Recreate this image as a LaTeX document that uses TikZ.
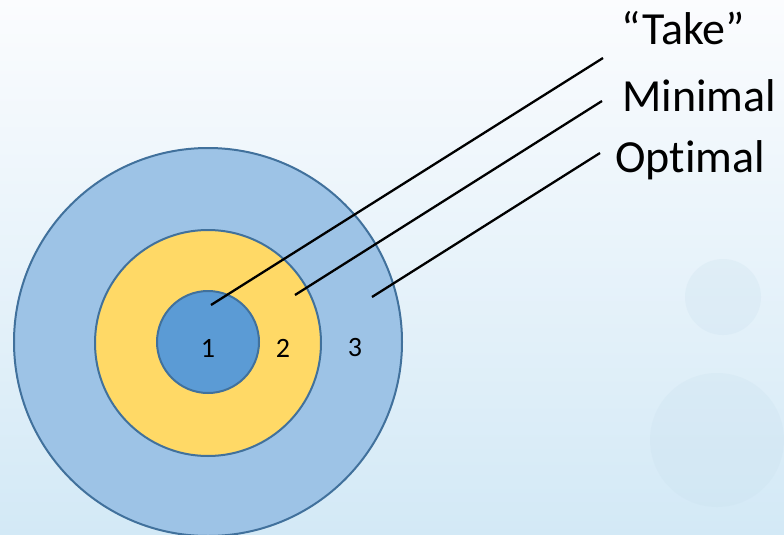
\documentclass[tikz,border=0pt]{standalone}
\usepackage{fontspec}
\setmainfont[RawFeature=-liga]{Carlito}
\begin{document}
\begin{tikzpicture}[x=1pt,y=-1pt,
  ring/.style={draw=ringedge, line width=2pt},
  pointer/.style={draw=black, line width=2.3pt},
  label/.style={font=\fontsize{46}{50}\selectfont, anchor=base west, inner sep=0pt},
  num/.style={font=\fontsize{28}{32}\selectfont, inner sep=0pt}]
\definecolor{ringedge}{HTML}{41719C}
\definecolor{outerblue}{HTML}{9DC3E6}
\definecolor{midyellow}{HTML}{FFD966}
\definecolor{innerblue}{HTML}{5B9BD5}
\definecolor{bgtop}{HTML}{FBFCFE}
\definecolor{bgbot}{HTML}{D3E9F6}
\definecolor{bgspot}{HTML}{C9E0EE}
% background
\shade[top color=bgtop, bottom color=bgbot] (0,0) rectangle (784,535);
\useasboundingbox (0,0) rectangle (784,535);
\fill[bgspot, opacity=0.25] (723,297) circle[radius=38];
\fill[bgspot, opacity=0.25] (717,440) circle[radius=67];
% target
\begin{scope}
\clip (0,0) rectangle (784,535);
\node[ring, fill=outerblue, circle, minimum size=388pt, inner sep=0pt] (outer) at (208,342) {};
\end{scope}
\node[ring, fill=midyellow, circle, minimum size=226pt, inner sep=0pt] (mid) at (208,343) {};
\node[ring, fill=innerblue, circle, minimum size=102pt, inner sep=0pt] (inner) at (208,342) {};
\node[num] (n1) at (208,348) {1};
\node[num] (n2) at (283,348) {2};
\node[num] (n3) at (355,348) {3};
% labels
\node[label] (take) at (621,45) {“Take”};
\node[label] (minimal) at (622,111) {Minimal};
\node[label] (optimal) at (615,172) {Optimal};
% pointer ends
\coordinate (tA) at (211,305);
\coordinate (tB) at (603,58);
\coordinate (mA) at (295,295);
\coordinate (mB) at (602,101);
\coordinate (oA) at (372,297);
\coordinate (oB) at (600,153);
\draw[pointer] (tA) -- (tB);
\draw[pointer] (mA) -- (mB);
\draw[pointer] (oA) -- (oB);
\end{tikzpicture}
\end{document}
